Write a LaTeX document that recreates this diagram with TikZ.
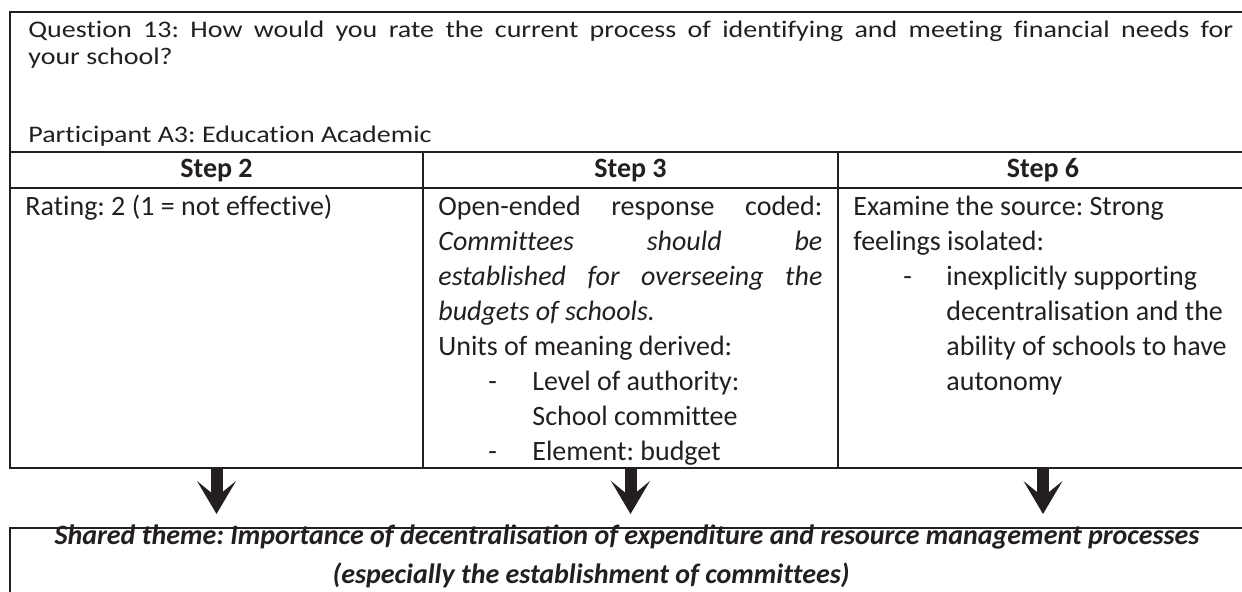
\documentclass[tikz,border=0pt]{standalone}
\usepackage{fontspec}
\setmainfont{Carlito}[Ligatures=NoCommon]
\usetikzlibrary{arrows.meta,fit}

\definecolor{ink}{RGB}{35,31,32}
\newcommand{\squashed}[1]{\scalebox{1}[0.85]{#1}}
\frenchspacing

\begin{document}
\begin{tikzpicture}
[
	          x = 0.5pt,
	          y = -0.5pt,
	 cell/.style = { draw=ink, line width=1pt, inner sep=0pt },
	  txt/.style = { inner sep=0pt, anchor=base west, text=ink, font=\fontsize{14}{17.5}\selectfont },
	 head/.style = { txt, anchor=base, font=\fontsize{14}{17.5}\selectfont\bfseries },
	theme/.style = { txt, anchor=base, font=\fontsize{14}{17.5}\selectfont\bfseries\itshape },
	 flow/.style = { draw=ink, line width=6pt, shorten >=6.5pt,
	                 -{Stealth[length=16.5pt, width=19.5pt, inset=8pt, line width=0pt]} }
]
	\useasboundingbox (0,0) rectangle (1242,592);
	\clip (0,0) rectangle (1242,592);

	% question box and table
	\node (top)   [cell, fit={(10,12) (1248,152)}]   {};
	\node (head2) [cell, fit={(10,152) (423,188)}]   {};
	\node (head3) [cell, fit={(423,152) (838,188)}]  {};
	\node (head6) [cell, fit={(838,152) (1248,188)}] {};
	\node (cell2) [cell, fit={(10,188) (423,468)}]   {};
	\node (cell3) [cell, fit={(423,188) (838,468)}]  {};
	\node (cell6) [cell, fit={(838,188) (1248,468)}] {};
	\node (shared) [cell, fit={(10,528) (1248,640)}] {};

	\node (q1)  at (28,38)  [txt] {\squashed{\makebox[602.5pt][s]{Question 13: How would you rate the current process of identifying and meeting financial needs for}}};
	\node (q2)  at (28,65)  [txt] {\squashed{your school?}};
	\node (who) at (28,143) [txt] {\squashed{Participant A3: Education Academic}};

	\node (h2) at (216.5,178) [head] {Step 2};
	\node (h3) at (630.5,178) [head] {Step 3};
	\node (h6) at (1043,178)  [head] {Step 6};

	% step 2
	\node (rating) at (25,216) [txt] {Rating: 2 (1 = not effective)};

	% step 3
	\node (c31) at (438,216) [txt] {\makebox[192pt][s]{Open-ended response coded:}};
	\node (c32) at (438,251) [txt] {\makebox[192pt][s]{\itshape Committees should be}};
	\node (c33) at (438,286) [txt] {\makebox[192pt][s]{\itshape established for overseeing the}};
	\node (c34) at (438,321) [txt] {\itshape budgets of schools.};
	\node (c35) at (438,356) [txt] {Units of meaning derived:};
	\node (d31) at (488,391) [txt] {-};
	\node (c36) at (532,391) [txt] {Level of authority:};
	\node (c37) at (532,426) [txt] {School committee};
	\node (d32) at (488,461) [txt] {-};
	\node (c38) at (532,461) [txt] {Element: budget};

	% step 6
	\node (c61) at (853,216) [txt] {Examine the source: Strong};
	\node (c62) at (853,251) [txt] {feelings isolated:};
	\node (d61) at (903,286) [txt] {-};
	\node (c63) at (946,286) [txt] {inexplicitly supporting};
	\node (c64) at (946,321) [txt] {decentralisation and the};
	\node (c65) at (946,356) [txt] {ability of schools to have};
	\node (c66) at (946,391) [txt] {autonomy};

	% shared theme
	\node (t1) at (627,545) [theme] {Shared theme: Importance of decentralisation of expenditure and resource management processes};
	\node (t2) at (591,583) [theme] {(especially the establishment of committees)};

	\draw [flow] (cell2.south) -- (cell2.south |- shared.north);
	\draw [flow] (cell3.south) -- (cell3.south |- shared.north);
	\draw [flow] (cell6.south) -- (cell6.south |- shared.north);

\end{tikzpicture}
\end{document}
